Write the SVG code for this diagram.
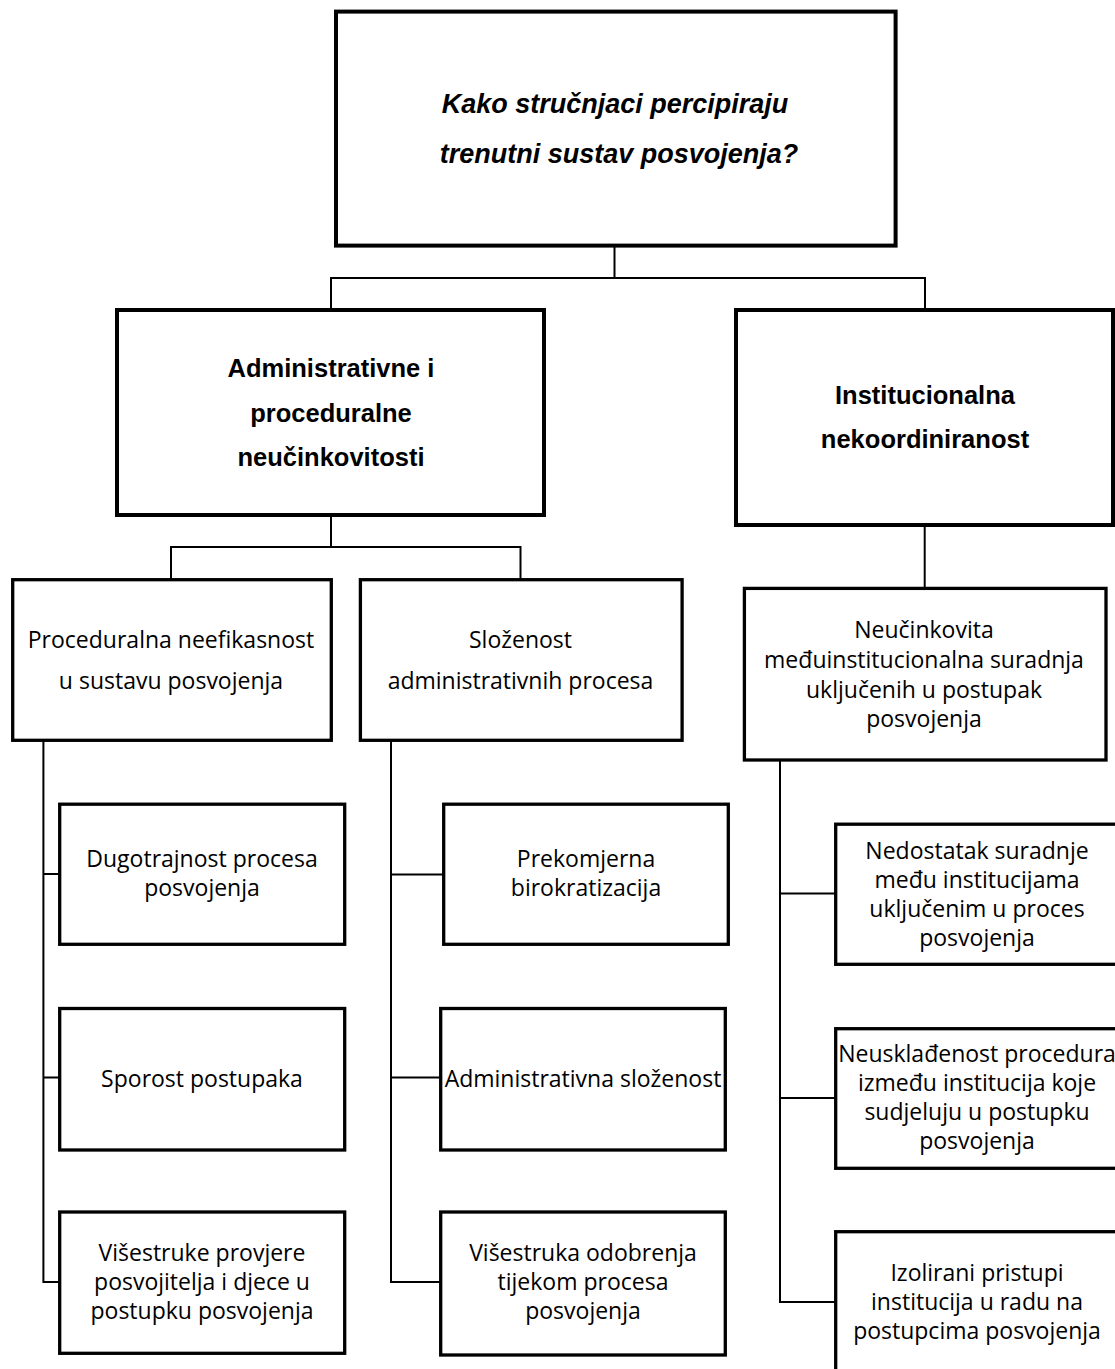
<svg xmlns="http://www.w3.org/2000/svg" width="1115" height="1369" viewBox="0 0 1115 1369">
<style>
  .bg { fill: #ffffff; }
  .box { fill: #ffffff; stroke: #000000; stroke-width: 3.3; }
  .boxb { fill: #ffffff; stroke: #000000; stroke-width: 4; }
  .conn { fill: none; stroke: #000000; stroke-width: 2; }
  .t { font-family: "Open Sans", "Noto Sans", sans-serif; font-size: 23px; fill: #000000; text-anchor: middle; }
  .tb { font-family: "Liberation Sans", Arial, sans-serif; font-size: 25.5px; font-weight: bold; fill: #000000; text-anchor: middle; }
  .ti { font-family: "Liberation Sans", Arial, sans-serif; font-size: 27px; font-weight: bold; font-style: italic; fill: #000000; text-anchor: middle; }
</style>
<rect class="bg" x="0" y="0" width="1115" height="1369"/>

<g id="connectors">
  <path class="conn" d="M614.5 247 V278"/>
  <path class="conn" d="M331 309 V278 H925 V309"/>
  <path class="conn" d="M331 516 V547"/>
  <path class="conn" d="M171 579 V547 H520.5 V579"/>
  <path class="conn" d="M924.7 526 V588"/>
  <path class="conn" d="M43.4 741 V1282 H59 M43.4 874 H59 M43.4 1077.5 H59"/>
  <path class="conn" d="M391 741 V1282 H440 M391 874.5 H443 M391 1077.5 H440"/>
  <path class="conn" d="M780 761 V1302 H835 M780 893.6 H835 M780 1098 H835"/>
</g>

<g id="root">
  <rect class="boxb" x="336" y="11.6" width="559.6" height="234"/>
  <text class="ti" x="615" y="113">Kako stručnjaci percipiraju</text>
  <text class="ti" x="619" y="163">trenutni sustav posvojenja?</text>
</g>

<g id="admin">
  <rect class="boxb" x="117" y="310" width="427" height="205"/>
  <text class="tb" x="331" y="377">Administrativne i</text>
  <text class="tb" x="331" y="421.5">proceduralne</text>
  <text class="tb" x="331" y="466">neučinkovitosti</text>
</g>

<g id="instit">
  <rect class="boxb" x="736" y="310" width="377" height="215"/>
  <text class="tb" x="925" y="403.6">Institucionalna</text>
  <text class="tb" x="925" y="448">nekoordiniranost</text>
</g>

<g id="proc-neef">
  <rect class="box" x="12.7" y="579.7" width="318.6" height="160.6"/>
  <text class="t" x="171" y="648">Proceduralna neefikasnost</text>
  <text class="t" x="171" y="689">u sustavu posvojenja</text>
</g>

<g id="slozenost">
  <rect class="box" x="360.4" y="579.7" width="321.7" height="160.6"/>
  <text class="t" x="520.5" y="648">Složenost</text>
  <text class="t" x="520.5" y="689">administrativnih procesa</text>
</g>

<g id="neucink">
  <rect class="box" x="744.4" y="588.4" width="361.6" height="171.6"/>
  <text class="t" x="924" y="638">Neučinkovita</text>
  <text class="t" x="924" y="668">međuinstitucionalna suradnja</text>
  <text class="t" x="924" y="698">uključenih u postupak</text>
  <text class="t" x="924" y="727">posvojenja</text>
</g>

<g id="dugotrajnost">
  <rect class="box" x="59.7" y="804.2" width="285" height="140.1"/>
  <text class="t" x="202" y="867">Dugotrajnost procesa</text>
  <text class="t" x="202" y="896">posvojenja</text>
</g>

<g id="sporost">
  <rect class="box" x="59.7" y="1008.5" width="285" height="141.5"/>
  <text class="t" x="202" y="1087">Sporost postupaka</text>
</g>

<g id="visestruke-provjere">
  <rect class="box" x="59.7" y="1212" width="285" height="141.3"/>
  <text class="t" x="202" y="1261">Višestruke provjere</text>
  <text class="t" x="202" y="1290">posvojitelja i djece u</text>
  <text class="t" x="202" y="1319">postupku posvojenja</text>
</g>

<g id="prekomjerna">
  <rect class="box" x="443.7" y="804.2" width="284.6" height="140.1"/>
  <text class="t" x="586" y="867">Prekomjerna</text>
  <text class="t" x="586" y="896">birokratizacija</text>
</g>

<g id="admin-slozenost">
  <rect class="box" x="440.7" y="1008.5" width="284.6" height="141.5"/>
  <text class="t" x="583" y="1087">Administrativna složenost</text>
</g>

<g id="visestruka-odobrenja">
  <rect class="box" x="440.7" y="1212" width="284.6" height="143"/>
  <text class="t" x="583" y="1261">Višestruka odobrenja</text>
  <text class="t" x="583" y="1290">tijekom procesa</text>
  <text class="t" x="583" y="1319">posvojenja</text>
</g>

<g id="nedostatak">
  <rect class="box" x="835.7" y="824.2" width="300" height="140.1"/>
  <text class="t" x="977" y="858.5">Nedostatak suradnje</text>
  <text class="t" x="977" y="887.5">među institucijama</text>
  <text class="t" x="977" y="916.5">uključenim u proces</text>
  <text class="t" x="977" y="945.5">posvojenja</text>
</g>

<g id="neuskladenost">
  <rect class="box" x="835.7" y="1028.7" width="300" height="139.6"/>
  <text class="t" x="977" y="1062">Neusklađenost procedura</text>
  <text class="t" x="977" y="1091">između institucija koje</text>
  <text class="t" x="977" y="1120">sudjeluju u postupku</text>
  <text class="t" x="977" y="1149">posvojenja</text>
</g>

<g id="izolirani">
  <rect class="box" x="835.7" y="1231.7" width="300" height="160"/>
  <text class="t" x="977" y="1281">Izolirani pristupi</text>
  <text class="t" x="977" y="1310">institucija u radu na</text>
  <text class="t" x="977" y="1339">postupcima posvojenja</text>
</g>
</svg>
